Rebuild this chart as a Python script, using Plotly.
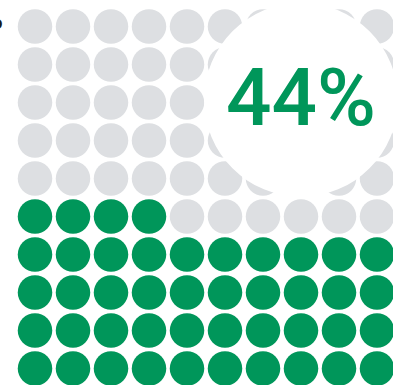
import plotly.graph_objects as go

# Waffle chart: 100 dots, share filled in green
share_percent = 44
grid_cols = 10
grid_rows = 10
label_text = "44%"

filled_color = "#00965A"
empty_color = "#DDDFE2"

# Position every dot; fill runs from the bottom row upward, left to right
fx, fy, ex, ey = [], [], [], []
for i in range(grid_cols * grid_rows):
    row = i // grid_cols
    col = i % grid_cols
    if i < share_percent:
        fx.append(col)
        fy.append(row)
    else:
        ex.append(col)
        ey.append(row)

fig = go.Figure()
fig.add_trace(go.Scatter(x=ex, y=ey, mode="markers", hoverinfo="skip",
                         marker=dict(size=34.5, color=empty_color, line=dict(width=0))))
fig.add_trace(go.Scatter(x=fx, y=fy, mode="markers", hoverinfo="skip",
                         marker=dict(size=34.5, color=filled_color, line=dict(width=0))))

# White badge holding the percentage label
cx, cy, r = 7.0, 7.07, 2.55
fig.add_shape(type="circle", xref="x", yref="y",
              x0=cx - r, x1=cx + r, y0=cy - r, y1=cy + r,
              fillcolor="white", line=dict(width=0), layer="above")
fig.add_annotation(x=cx, y=cy + 0.05, xref="x", yref="y", text=label_text,
                   showarrow=False,
                   font=dict(family="Roboto", size=80, color=filled_color, weight=500))

# Fragment of a heading running off the left edge
fig.add_annotation(x=0, y=1, xref="paper", yref="paper", xanchor="right", yanchor="top",
                   xshift=5, yshift=-10, text="o", showarrow=False,
                   font=dict(family="Liberation Sans", size=19, color="#1a1a1a", weight="bold"))

fig.update_xaxes(range=[-35 / 38, -35 / 38 + 393 / 38], visible=False, fixedrange=True)
fig.update_yaxes(range=[(368.5 - 385) / 38, 368.5 / 38], visible=False, fixedrange=True)
fig.update_layout(width=393, height=385, margin=dict(l=0, r=0, t=0, b=0),
                  paper_bgcolor="white", plot_bgcolor="white", showlegend=False)

fig.write_html("out.html", config={"displayModeBar": False})
